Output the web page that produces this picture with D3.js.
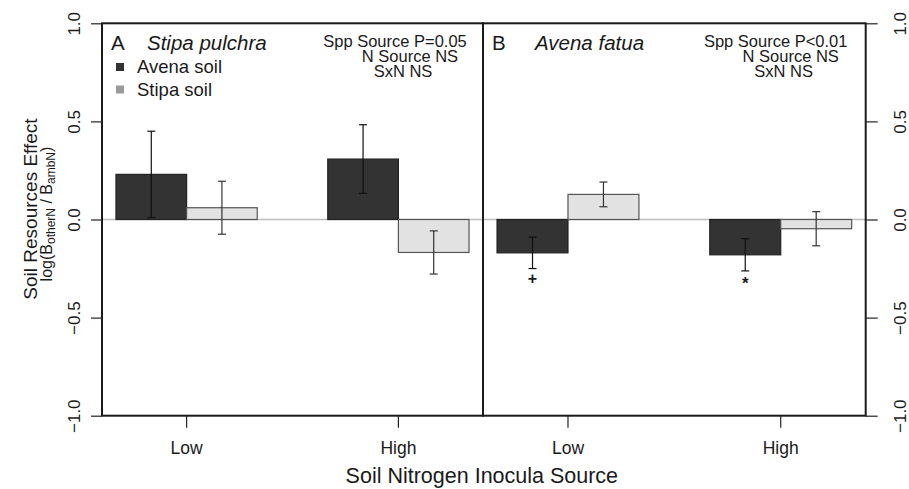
<!DOCTYPE html>
<html>
<head>
<meta charset="utf-8">
<script src="https://cdn.jsdelivr.net/npm/d3@7"></script>
<style>
  body { margin: 0; background: #fff; }
  text { font-family: "Liberation Sans", Arial, sans-serif; fill: #1a1a1a; }
</style>
</head>
<body>
<script>
// data
var groups = ["Low", "High"];
var series = ["Avena soil", "Stipa soil"];
var yTicks = [-1.0, -0.5, 0.0, 0.5, 1.0];

var stipaPanelAvena = [0.23, 0.308];
var stipaPanelAvenaErr = [0.22, 0.175];
var stipaPanelStipa = [0.06, -0.168];
var stipaPanelStipaErr = [0.135, 0.11];

var avenaPanelAvena = [-0.17, -0.18];
var avenaPanelAvenaErr = [0.08, 0.082];
var avenaPanelStipa = [0.128, -0.047];
var avenaPanelStipaErr = [0.063, 0.087];
var avenaPanelMarks = ["+", "*"];

var panels = [
  { letter: "A", species: "Stipa pulchra", stats: ["Spp Source P=0.05", "N Source NS", "SxN NS"],
    values: [stipaPanelAvena, stipaPanelStipa], errs: [stipaPanelAvenaErr, stipaPanelStipaErr], marks: null },
  { letter: "B", species: "Avena fatua", stats: ["Spp Source P<0.01", "N Source NS", "SxN NS"],
    values: [avenaPanelAvena, avenaPanelStipa], errs: [avenaPanelAvenaErr, avenaPanelStipaErr], marks: avenaPanelMarks }
];

var W = 909, H = 489;
var pLeft = 102, pMid = 483, pRight = 865.7, pTop = 23.3, pBottom = 415.7;
var fills = ["#333333", "#e2e2e2"];
var strokes = ["#222", "#555"];
var legendFills = ["#333333", "#9a9a9a"];

var svg = d3.select("body").append("svg")
    .attr("width", W)
    .attr("height", H);

var y = d3.scaleLinear().domain([-1, 1]).range([pBottom, pTop]);

// zero line across both panels
svg.append("line")
    .attr("x1", pLeft).attr("x2", pRight)
    .attr("y1", y(0)).attr("y2", y(0))
    .attr("stroke", "#bdbdbd").attr("stroke-width", 1.5);

panels.forEach(function(p, i) {
  var x0 = i == 0 ? pLeft : pMid;
  var x1 = i == 0 ? pMid : pRight;
  var xg = d3.scaleBand().domain(groups).range([x0, x1]).paddingInner(0.333).paddingOuter(0.066);
  var xs = d3.scaleBand().domain(series).range([0, xg.bandwidth()]);
  var g = svg.append("g");

  series.forEach(function(s, si) {
    var vals = p.values[si];
    var errs = p.errs[si];
    g.selectAll(".bar" + si)
      .data(groups)
      .enter()
      .append("rect")
      .attr("x", function(d) { return xg(d) + xs(s); })
      .attr("width", xs.bandwidth())
      .attr("y", function(d, k) { return y(Math.max(0, vals[k])); })
      .attr("height", function(d, k) { return Math.abs(y(vals[k]) - y(0)); })
      .attr("fill", fills[si])
      .attr("stroke", strokes[si])
      .attr("stroke-width", 1.2);

    groups.forEach(function(d, k) {
      var cx = xg(d) + xs(s) + xs.bandwidth() / 2;
      var hi = y(vals[k] + errs[k]), lo = y(vals[k] - errs[k]);
      var col = si == 0 ? "#111" : "#333";
      g.append("line").attr("x1", cx).attr("x2", cx).attr("y1", hi).attr("y2", lo)
        .attr("stroke", col).attr("stroke-width", 1.2);
      [hi, lo].forEach(function(yy) {
        g.append("line").attr("x1", cx - 4).attr("x2", cx + 4).attr("y1", yy).attr("y2", yy)
          .attr("stroke", col).attr("stroke-width", 1.2);
      });
      if (si == 0 && p.marks) {
        g.append("text")
          .attr("x", cx)
          .attr("y", lo + (p.marks[k] == "*" ? 18 : 15))
          .attr("text-anchor", "middle")
          .style("font-size", p.marks[k] == "*" ? "17px" : "16px")
          .style("font-weight", "bold")
          .text(p.marks[k]);
      }
    });
  });

  // x axis
  var xAxis = d3.axisBottom(xg).tickSize(12).tickSizeOuter(0).tickPadding(14);
  var xa = svg.append("g").attr("transform", "translate(0," + pBottom + ")").call(xAxis);
  xa.select(".domain").remove();
  xa.selectAll(".tick line").attr("stroke", "#222").attr("stroke-width", 1.2);
  xa.selectAll(".tick text").style("font-size", "17.5px").style("font-family", "Liberation Sans, Arial, sans-serif").attr("fill", "#1a1a1a");

  // panel box
  svg.append("rect")
    .attr("x", x0).attr("y", pTop)
    .attr("width", x1 - x0).attr("height", pBottom - pTop)
    .attr("fill", "none").attr("stroke", "#1a1a1a").attr("stroke-width", 2);

  // labels
  svg.append("text").attr("x", x0 + 9).attr("y", pTop + 26.5)
    .style("font-size", "20.5px").text(p.letter);
  svg.append("text").attr("x", x0 + (i == 0 ? 45 : 52)).attr("y", pTop + 26.5)
    .style("font-size", "20.5px").style("font-style", "italic").text(p.species);

  var statOffsets = [-88, -73, -80];
  p.stats.forEach(function(t, k) {
    svg.append("text")
      .attr("x", x1 + statOffsets[k] - (i == 0 ? 0 : 2))
      .attr("y", pTop + 24 + k * 15)
      .attr("text-anchor", "middle")
      .style("font-size", "16.5px")
      .text(t);
  });
});

// legend (panel A)
series.forEach(function(s, si) {
  var ly = 67 + si * 22.5;
  svg.append("rect").attr("x", 116).attr("y", ly - 4).attr("width", 8).attr("height", 8)
    .attr("fill", legendFills[si]);
  svg.append("text").attr("x", 137).attr("y", ly + 6)
    .style("font-size", "18.5px").text(s);
});

// y axes, left and right
var fmt = d3.format(".1f");
var yl = svg.append("g").attr("transform", "translate(" + pLeft + ",0)")
    .call(d3.axisLeft(y).tickValues(yTicks).tickFormat(fmt).tickSize(11).tickPadding(0));
var yr = svg.append("g").attr("transform", "translate(" + pRight + ",0)")
    .call(d3.axisRight(y).tickValues(yTicks).tickFormat(fmt).tickSize(12).tickPadding(0));
[yl, yr].forEach(function(a, i) {
  a.select(".domain").remove();
  a.selectAll(".tick line").attr("stroke", "#222").attr("stroke-width", 1.2);
  a.selectAll(".tick text")
    .attr("x", null).attr("dy", null)
    .attr("text-anchor", "middle")
    .attr("transform", "translate(" + (i == 0 ? -22 : 40) + ",0) rotate(-90)")
    .style("font-size", "17px")
    .style("font-family", "Liberation Sans, Arial, sans-serif")
    .attr("fill", "#1a1a1a");
});

// axis titles
svg.append("text")
  .attr("transform", "translate(37,209) rotate(-90)")
  .attr("text-anchor", "middle")
  .style("font-size", "19px")
  .text("Soil Resources Effect");

var sub = svg.append("text")
  .attr("transform", "translate(52,214) rotate(-90)")
  .attr("text-anchor", "middle")
  .style("font-size", "16px");
sub.append("tspan").text("log(B");
sub.append("tspan").attr("dy", 3).style("font-size", "12px").text("otherN");
sub.append("tspan").attr("dy", -3).text(" / B");
sub.append("tspan").attr("dy", 3).style("font-size", "12px").text("ambN");
sub.append("tspan").attr("dy", -3).text(")");

svg.append("text")
  .attr("x", (pLeft + pRight) / 2 - 2)
  .attr("y", 483)
  .attr("text-anchor", "middle")
  .style("font-size", "21.5px")
  .text("Soil Nitrogen Inocula Source");
</script>
</body>
</html>
